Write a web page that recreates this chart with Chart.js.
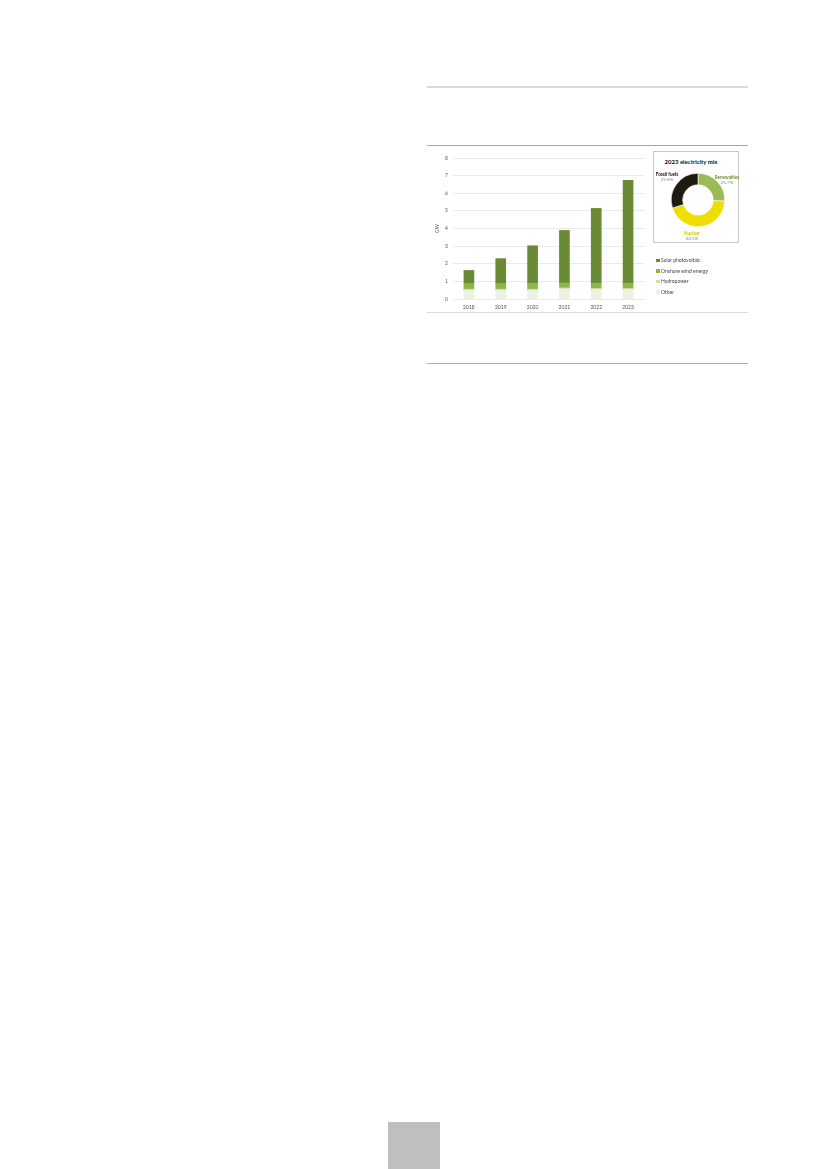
<!DOCTYPE html>
<html>
<head>
<meta charset="utf-8">
<script src="https://cdn.jsdelivr.net/npm/chart.js@4.4.1/dist/chart.umd.min.js"></script>
<style>
  body { margin: 0; width: 827px; height: 1169px; background: #fff; position: relative; overflow: hidden; font-family: Lato, "Open Sans", sans-serif; }
  .rule { position: absolute; left: 427px; width: 321px; }
  #barWrap { position: absolute; left: 420px; top: 150px; width: 230px; height: 163px; }
  #mixBox { position: absolute; left: 653px; top: 151px; width: 86px; height: 92px; border: 1px solid #c8c8c8; box-sizing: border-box; }
  #mixTitle { position: absolute; left: 0; top: 6px; width: 74px; text-align: center; font-size: 6px; font-weight: bold; color: #111; }
  #donutWrap { position: absolute; left: 16px; top: 20px; width: 56px; height: 56px; }
  .mixLbl { position: absolute; font-size: 4.6px; line-height: 5px; text-align: center; white-space: nowrap; transform: translateX(-50%); }
  .mixLbl b { display: block; }
  .mixLbl span { color: #8c8c8c; }
  #legend { position: absolute; left: 656px; top: 257px; font-size: 5px; color: #444; }
  #legend div { height: 10.6px; line-height: 6px; white-space: nowrap; }
  #legend i { display: inline-block; width: 3.5px; height: 3.5px; margin-right: 1.5px; vertical-align: 0px; }
  #page { position: absolute; left: 388px; top: 1122px; width: 52px; height: 47px; background: #bfbfbf; }
</style>
</head>
<body>
<div class="rule" style="top:86px;height:2px;background:#dadada"></div>
<div class="rule" style="top:145px;height:1px;background:#a6a6a6"></div>
<div class="rule" style="top:312px;height:1px;background:#d9d9d9"></div>
<div class="rule" style="top:363px;height:1px;background:#b0b0b0"></div>

<div id="barWrap"><canvas id="bars"></canvas></div>
<div id="mixBox">
  <div id="mixTitle">2023 electricity mix</div>
  <div id="donutWrap"><canvas id="donut"></canvas></div>
</div>
<div id="legend"></div>
<div id="page"></div>

<script>
// capacity by year, GW
var years = ["2018", "2019", "2020", "2021", "2022", "2023"];
var solarPV = [0.74, 1.41, 2.13, 2.98, 4.24, 5.84];
var onshoreWind = [0.32, 0.32, 0.33, 0.28, 0.30, 0.30];
var hydropower = [0.06, 0.06, 0.06, 0.06, 0.06, 0.06];
var other = [0.50, 0.50, 0.50, 0.57, 0.54, 0.54];
var yTicks = [0, 1, 2, 3, 4, 5, 6, 7, 8];

// 2023 electricity mix, %
var mixLabels = ["Renewables", "Nuclear", "Fossil fuels"];
var mixShares = [25.7, 44.5, 29.8];
var mixColors = ["#9bbb59", "#eedf00", "#1e1a12"];
var mixTextColors = ["#6f8f2f", "#d6c800", "#111111"];

var font = "Lato, 'Open Sans', sans-serif";

var seriesList = [
  { label: "Solar photovoltaic", data: solarPV, color: "#6b8a35" },
  { label: "Onshore wind energy", data: onshoreWind, color: "#8db548" },
  { label: "Hydropower", data: hydropower, color: "#c9deaa" },
  { label: "Other", data: other, color: "#edf1e2" }
];

// stack from the bottom: Other, Hydro, Wind, Solar
var datasets = seriesList.slice().reverse().map(function (s) {
  return {
    label: s.label,
    data: s.data,
    backgroundColor: s.color,
    barThickness: 10,
    borderWidth: 0
  };
});

new Chart(document.getElementById("bars"), {
  type: "bar",
  data: { labels: years, datasets: datasets },
  options: {
    responsive: true,
    maintainAspectRatio: false,
    animation: false,
    layout: { padding: { top: 6, right: 6, left: 0, bottom: 0 } },
    plugins: { legend: { display: false }, tooltip: { enabled: false } },
    scales: {
      x: {
        stacked: true,
        grid: { display: false, drawTicks: false },
        border: { display: false },
        ticks: { color: "#555", font: { family: font, size: 5 }, padding: 5, maxRotation: 0 },
        afterFit: function (s) { s.height = 14; }
      },
      y: {
        stacked: true,
        min: 0,
        max: 8,
        afterBuildTicks: function (s) { s.ticks = yTicks.map(function (v) { return { value: v }; }); },
        grid: { color: "#e4e4e4", lineWidth: 0.8, drawTicks: false },
        border: { display: false },
        ticks: { color: "#555", font: { family: font, size: 5 }, padding: 5 },
        title: { display: true, text: "GW", color: "#555", font: { family: font, size: 5 }, padding: { top: 14, bottom: 0 } },
        afterFit: function (s) { s.width = 33; }
      }
    }
  }
});

new Chart(document.getElementById("donut"), {
  type: "doughnut",
  data: {
    labels: mixLabels,
    datasets: [{ data: mixShares, backgroundColor: mixColors, borderColor: "#fff", borderWidth: 0.6 }]
  },
  options: {
    responsive: true,
    maintainAspectRatio: false,
    animation: false,
    cutout: "57%",
    layout: { padding: 1 },
    plugins: { legend: { display: false }, tooltip: { enabled: false } }
  }
});

// labels next to the doughnut
var mixBox = document.getElementById("mixBox");
var mixPos = [[73, 23], [38, 79], [13, 20]];
mixLabels.forEach(function (name, i) {
  var d = document.createElement("div");
  d.className = "mixLbl";
  d.style.left = mixPos[i][0] + "px";
  d.style.top = mixPos[i][1] + "px";
  d.innerHTML = "<b style='color:" + mixTextColors[i] + "'>" + name + "</b><span>" + mixShares[i].toFixed(1) + "%</span>";
  mixBox.appendChild(d);
});

// legend for the bars
var legend = document.getElementById("legend");
seriesList.forEach(function (s) {
  var row = document.createElement("div");
  row.innerHTML = "<i style='background:" + s.color + "'></i>" + s.label;
  legend.appendChild(row);
});
</script>
</body>
</html>
